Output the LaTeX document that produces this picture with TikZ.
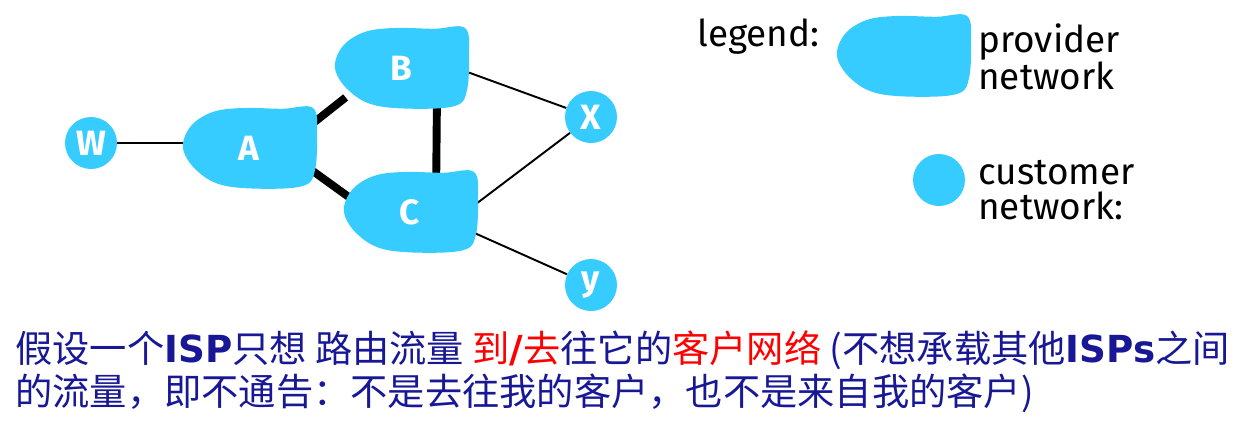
\documentclass[tikz,border=0pt]{standalone}
\usepackage{fontspec}
\setmainfont{Fira Sans}
\newfontfamily\cjk{Noto Sans CJK SC}
\newfontfamily\ispfont{DejaVu Sans}
\usetikzlibrary{backgrounds}
\definecolor{netblue}{RGB}{54,204,255}
\definecolor{noteblue}{RGB}{24,24,150}

\begin{document}
\begin{tikzpicture}[
    pics/blob/.style={code={
      \fill[netblue, x=1.32cm, y=0.8cm] plot[smooth cycle, tension=0.6]
        coordinates {(-1,0) (-0.88,0.55) (-0.55,0.9) (-0.1,1) (0.5,0.98) (0.97,1)
          (1.03,0.3) (1,-0.55) (0.85,-0.93) (0.3,-1.02) (-0.4,-0.93) (-0.8,-0.55)};
    }},
    provider/.style={minimum width=2.2cm, minimum height=1.28cm, text=white,
      font=\bfseries\fontsize{20}{20}\selectfont},
    customer/.style={circle, fill=netblue, minimum size=1.04cm, inner sep=0pt,
      text=white, font=\bfseries\fontsize{20}{20}\selectfont},
    peer/.style={line width=4.5pt},
    link/.style={line width=1.1pt},
    keytext/.style={anchor=west, align=left, inner sep=0pt,
      font=\fontsize{21}{19.5}\selectfont}]
  \useasboundingbox (0,0) rectangle (24.92,8.56);
  % networks
  \node[customer] (W) at (1.82,5.70) {W};
  \node[provider] (A) at (4.98,5.60) {A};
  \node[provider] (B) at (8.02,7.20) {B};
  \node[provider] (C) at (8.20,4.32) {C};
  \node[customer] (X) at (11.82,6.22) {X};
  \node[customer] (Y) at (11.82,2.86) {y};
  % legend
  \node[keytext] (key) at (13.94,7.82) {legend:};
  \node[provider] (P) at (18.06,7.44) {};
  \node[keytext] (Ptext) at (19.56,7.42) {provider\\network};
  \node[customer] (Q) at (18.78,4.96) {};
  \node[keytext] (Qtext) at (19.56,4.76) {customer\\network:};
  \node[anchor=west, align=left, inner sep=0pt, text=noteblue,
    font=\cjk\fontsize{21.2}{24.5}\selectfont] (note) at (0.30,1.13)
    {假设一个{\ispfont\bfseries ISP}只想 路由流量 {\color{red}到{\ispfont\bfseries /}去}往它的{\color{red}客户网络} ({不想承载其他{\ispfont\bfseries ISPs}之间}\\
     的流量，即不通告：不是去往我的客户，也不是来自我的客户)};
  \begin{scope}[on background layer]
    \draw[link] (W) -- (W -| A.west);
    \draw[peer] (A.18) -- (B.208);
    \draw[peer] (A.-17) -- (C.169);
    \draw[peer] (B.-42) -- (C.51);
    \draw[link] (B.east) -- (X);
    \draw[link] (C.east) -- (X);
    \draw[link] (C.-17) -- (Y);
    \foreach \n in {A,B,C,P}
      \pic at (\n) {blob};
  \end{scope}
\end{tikzpicture}
\end{document}
